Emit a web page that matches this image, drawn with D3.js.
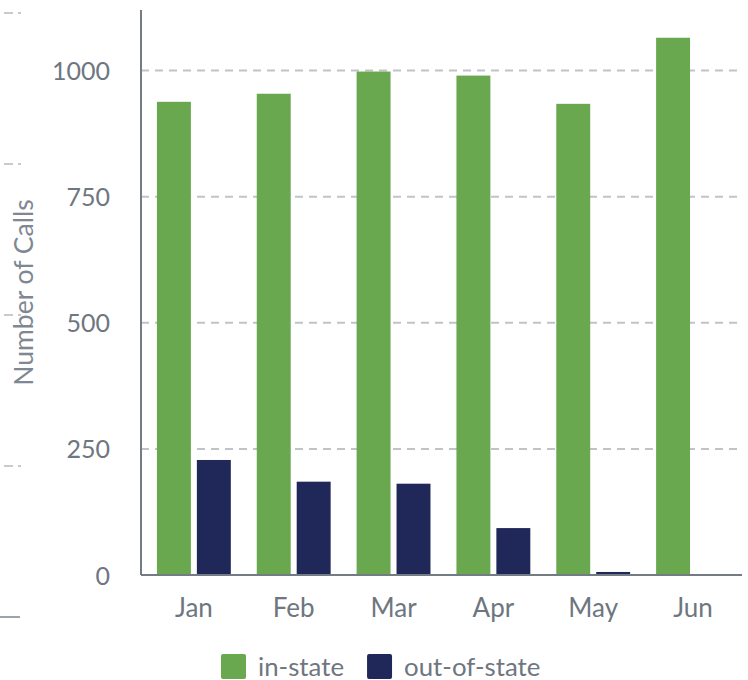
<!DOCTYPE html>
<html>
<head>
<meta charset="utf-8">
<script src="https://cdn.jsdelivr.net/npm/d3@7"></script>
<style>
  body { margin: 0; background: #fff; }
  #chart text { font-family: Lato, "Open Sans", sans-serif; }
</style>
</head>
<body>
<div id="chart"></div>
<script>
const months = ["Jan", "Feb", "Mar", "Apr", "May", "Jun"];
const seriesNames = ["in-state", "out-of-state"];
const inState = [938, 954, 998, 990, 934, 1065];
const outOfState = [228, 185, 181, 93, 6, 0];
const yTicks = [0, 250, 500, 750, 1000];
const ghostTicks = [1, 2, 3, 4];

const colors = { "in-state": "#69a84f", "out-of-state": "#202859" };

const width = 748, height = 680;
const margin = { top: 10, right: 6, bottom: 105, left: 141 };

const svg = d3.select("#chart")
    .append("svg")
    .attr("width", width)
    .attr("height", height);

const data = months.map((m, i) => ({ month: m, "in-state": inState[i], "out-of-state": outOfState[i] }));

// faint leftovers of a neighbouring axis on the left edge
const ghostY = d3.scaleLinear().domain([0, 4]).range([617, 13]);
svg.append("g")
    .selectAll("line")
    .data(ghostTicks)
    .join("line")
    .attr("x1", 4).attr("x2", 21)
    .attr("y1", d => ghostY(d)).attr("y2", d => ghostY(d))
    .attr("stroke", "#b5bac0")
    .attr("stroke-width", 1.5)
    .attr("stroke-dasharray", "9,5");
svg.append("line")
    .attr("x1", 0).attr("x2", 20)
    .attr("y1", ghostY(0)).attr("y2", ghostY(0))
    .attr("stroke", "#7d858f")
    .attr("stroke-width", 1.5);

const x0 = d3.scaleBand()
    .domain(months)
    .range([margin.left, width - margin.right])
    .paddingInner(0.26)
    .paddingOuter(0.14)
    .align(0.57);

const x1 = d3.scaleBand()
    .domain(seriesNames)
    .range([0, x0.bandwidth()])
    .paddingInner(0.15);

const y = d3.scaleLinear()
    .domain([0, 1120])
    .range([height - margin.bottom, margin.top]);

// grid
svg.append("g")
    .selectAll("line")
    .data(yTicks.filter(d => d > 0))
    .join("line")
    .attr("x1", margin.left)
    .attr("x2", width - margin.right)
    .attr("y1", d => y(d))
    .attr("y2", d => y(d))
    .attr("stroke", "#c0c4c9")
    .attr("stroke-width", 2)
    .attr("stroke-dasharray", "8,6");

// bars
svg.append("g")
    .selectAll("g")
    .data(data)
    .join("g")
    .attr("transform", d => `translate(${x0(d.month)},0)`)
    .selectAll("rect")
    .data(d => seriesNames.map(k => ({ key: k, value: d[k] })))
    .join("rect")
    .attr("x", d => x1(d.key))
    .attr("y", d => y(d.value))
    .attr("width", x1.bandwidth())
    .attr("height", d => y(0) - y(d.value))
    .attr("fill", d => colors[d.key]);

// y axis
const yAxis = svg.append("g")
    .attr("transform", `translate(${margin.left},0)`)
    .call(d3.axisLeft(y).tickValues(yTicks).tickFormat(d3.format("d")).tickSize(0).tickPadding(31));
yAxis.select(".domain")
    .attr("d", `M0,${margin.top}V${y(0)}`)
    .attr("stroke", "#737b85")
    .attr("stroke-width", 2);
yAxis.selectAll("text")
    .attr("fill", "#6e7680")
    .style("font-size", "25px")
    .attr("dy", "0.36em");

// x axis
const xAxis = svg.append("g")
    .attr("transform", `translate(0,${y(0)})`)
    .call(d3.axisBottom(x0).tickSize(0).tickPadding(24));
xAxis.select(".domain")
    .attr("d", `M${margin.left},0H${width - margin.right}`)
    .attr("stroke", "#737b85")
    .attr("stroke-width", 2);
xAxis.selectAll("text")
    .attr("fill", "#6e7680")
    .style("font-size", "26px");

// axis title
svg.append("text")
    .attr("transform", `translate(33,${(y(0) + margin.top) / 2}) rotate(-90)`)
    .attr("text-anchor", "middle")
    .attr("fill", "#7f8892")
    .style("font-size", "26.5px")
    .text("Number of Calls");

// legend
const legend = svg.append("g").attr("transform", "translate(221,654)");
let lx = 0;
seriesNames.forEach(name => {
    const item = legend.append("g").attr("transform", `translate(${lx},0)`);
    item.append("rect")
        .attr("width", 25).attr("height", 25)
        .attr("rx", 2)
        .attr("fill", colors[name]);
    const t = item.append("text")
        .attr("x", 37).attr("y", 22)
        .attr("fill", "#6e7680")
        .style("font-size", "25.8px")
        .text(name);
    lx += 37 + t.node().getComputedTextLength() + 23;
});
</script>
</body>
</html>
